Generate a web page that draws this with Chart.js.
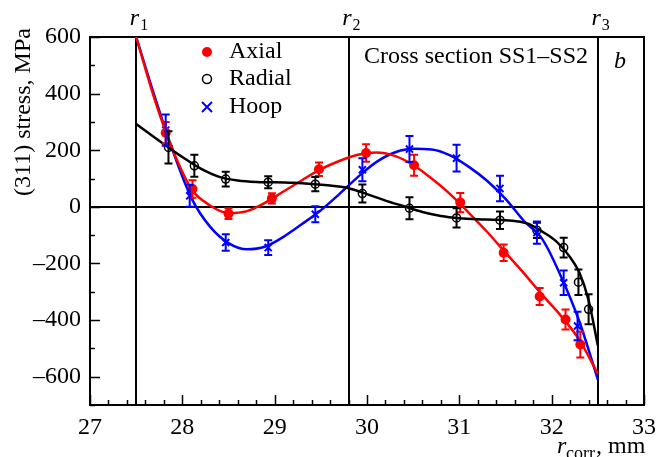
<!DOCTYPE html>
<html>
<head>
<meta charset="utf-8">
<script src="https://cdn.jsdelivr.net/npm/chart.js@4.4.1/dist/chart.umd.min.js"></script>
<style>
  html, body { margin: 0; padding: 0; background: #fff; }
</style>
</head>
<body>
<canvas id="chart" width="658" height="457"></canvas>
<script>
// axis ticks
const xTicks = [27, 28, 29, 30, 31, 32, 33];
const yTicks = [-600, -400, -200, 0, 200, 400, 600];

// boundaries r1, r2, r3
const radiiX = [27.5, 29.8, 32.5];
const radiiLabels = ['1', '2', '3'];

// measured points (MPa) with error bars
const axialX = [27.82, 28.11, 28.50, 28.97, 29.48, 29.99, 30.51, 31.01, 31.48, 31.87, 32.15, 32.31];
const axialY = [262, 63, -24, 30, 133, 190, 147, 15, -162, -317, -398, -486];
const axialErr = [38, 31, 19, 18, 24, 31, 37, 34, 29, 30, 35, 46];

const radialX = [27.85, 28.13, 28.47, 28.93, 29.44, 29.95, 30.46, 30.97, 31.44, 31.84, 32.13, 32.29, 32.40];
const radialY = [210, 145, 98, 87, 80, 47, -5, -39, -47, -83, -144, -266, -362];
const radialErr = [57, 39, 26, 21, 25, 32, 39, 34, 31, 27, 35, 45, 53];

const hoopX = [27.82, 28.08, 28.47, 28.93, 29.44, 29.95, 30.46, 30.97, 31.44, 31.84, 32.13, 32.28];
const hoopY = [271, 39, -126, -144, -26, 131, 204, 172, 65, -91, -268, -421];
const hoopErr = [55, 39, 29, 26, 28, 41, 46, 47, 45, 39, 43, 50];

// fitted curves
const axialCurveX = [27.5, 27.7, 27.9, 28.1, 28.3, 28.5, 28.7, 28.9, 29.1, 29.3, 29.5, 29.7, 29.9, 30.1, 30.3, 30.5, 30.7, 30.9, 31.1, 31.3, 31.5, 31.7, 31.9, 32.1, 32.3, 32.5];
const axialCurveY = [600, 380, 198, 62, 5, -22, -15, 15, 55, 95, 133, 162, 184, 192, 180, 148, 100, 45, -20, -88, -162, -235, -312, -385, -470, -590];

const radialCurveX = [27.5, 27.7, 27.85, 28.0, 28.2, 28.4, 28.6, 28.8, 29.0, 29.2, 29.4, 29.6, 29.8, 30.0, 30.2, 30.4, 30.6, 30.8, 31.0, 31.2, 31.4, 31.6, 31.75, 31.9, 32.05, 32.2, 32.3, 32.4, 32.5];
const radialCurveY = [293, 245, 210, 176, 135, 106, 93, 88, 87, 85, 81, 75, 66, 45, 22, 2, -18, -32, -40, -44, -46, -50, -60, -88, -122, -178, -232, -330, -490];

const hoopCurveX = [27.5, 27.7, 27.9, 28.1, 28.3, 28.5, 28.7, 28.9, 29.1, 29.3, 29.5, 29.7, 29.9, 30.1, 30.3, 30.5, 30.7, 30.9, 31.1, 31.3, 31.5, 31.7, 31.9, 32.1, 32.3, 32.5];
const hoopCurveY = [600, 390, 195, 30, -70, -128, -150, -140, -105, -60, -12, 45, 105, 158, 192, 205, 203, 182, 142, 92, 28, -50, -115, -245, -405, -610];

const FONT = "'Liberation Serif', 'Times New Roman', serif";
const RED = '#ff0000';
const BLUE = '#0000ff';
const BLACK = '#000000';

const pts = (xs, ys) => xs.map((x, i) => ({ x, y: ys[i] }));

const errorBars = [
  { xs: axialX, ys: axialY, err: axialErr, color: RED },
  { xs: radialX, ys: radialY, err: radialErr, color: BLACK },
  { xs: hoopX, ys: hoopY, err: hoopErr, color: BLUE },
];

const framePlugin = {
  id: 'frame',
  beforeDatasetsDraw(chart) {
    const { ctx, chartArea: a, scales: { x, y } } = chart;
    ctx.save();
    ctx.strokeStyle = BLACK;
    ctx.lineWidth = 2;
    ctx.beginPath();
    radiiX.forEach((r) => {
      const px = Math.round(x.getPixelForValue(r));
      ctx.moveTo(px, a.top);
      ctx.lineTo(px, a.bottom);
    });
    const y0 = Math.round(y.getPixelForValue(0));
    ctx.moveTo(a.left, y0);
    ctx.lineTo(a.right, y0);
    ctx.stroke();

    // inward ticks on left and bottom axes
    ctx.lineWidth = 1.5;
    ctx.beginPath();
    for (let v = 27; v <= 33.001; v += 0.2) {
      const px = Math.round(x.getPixelForValue(v)) + 0.5;
      const major = Math.abs(v - Math.round(v)) < 0.01;
      ctx.moveTo(px, a.bottom);
      ctx.lineTo(px, a.bottom - (major ? 10 : 5));
    }
    for (let v = -700; v <= 600; v += 100) {
      const py = Math.round(y.getPixelForValue(v)) + 0.5;
      const major = v % 200 === 0;
      ctx.moveTo(a.left, py);
      ctx.lineTo(a.left + (major ? 10 : 5), py);
    }
    ctx.stroke();

    ctx.lineWidth = 2;
    ctx.strokeRect(a.left, a.top, a.right - a.left, a.bottom - a.top);
    ctx.restore();
  },
  afterDatasetsDraw(chart) {
    const { ctx, scales: { x, y } } = chart;
    ctx.save();
    ctx.lineWidth = 2;
    errorBars.forEach((s) => {
      ctx.strokeStyle = s.color;
      ctx.beginPath();
      s.xs.forEach((xv, i) => {
        const px = x.getPixelForValue(xv);
        const top = y.getPixelForValue(s.ys[i] + s.err[i]);
        const bot = y.getPixelForValue(s.ys[i] - s.err[i]);
        ctx.moveTo(px, top);
        ctx.lineTo(px, bot);
        ctx.moveTo(px - 4, top);
        ctx.lineTo(px + 4, top);
        ctx.moveTo(px - 4, bot);
        ctx.lineTo(px + 4, bot);
      });
      ctx.stroke();
    });
    ctx.restore();
  },
  afterDraw(chart) {
    const { ctx, scales: { x } } = chart;
    ctx.save();
    ctx.fillStyle = BLACK;
    ctx.textBaseline = 'alphabetic';

    // r1, r2, r3 above the lines
    radiiX.forEach((r, i) => {
      const px = x.getPixelForValue(r);
      ctx.font = `italic 24px ${FONT}`;
      ctx.textAlign = 'right';
      ctx.fillText('r', px + 3, 25);
      ctx.font = `16px ${FONT}`;
      ctx.textAlign = 'left';
      ctx.fillText(radiiLabels[i], px + 4, 30);
    });

    ctx.font = `24px ${FONT}`;
    ctx.textAlign = 'left';
    ctx.fillText('Cross section SS1\u2013SS2', 364, 63);

    ctx.font = `italic 24px ${FONT}`;
    ctx.fillText('b', 614, 68);

    // legend
    const legend = [
      { label: 'Axial', y: 52, draw: (cx, cy) => { ctx.fillStyle = RED; ctx.beginPath(); ctx.arc(cx, cy, 5, 0, Math.PI * 2); ctx.fill(); } },
      { label: 'Radial', y: 79, draw: (cx, cy) => { ctx.strokeStyle = BLACK; ctx.lineWidth = 1.5; ctx.beginPath(); ctx.arc(cx, cy, 4.5, 0, Math.PI * 2); ctx.stroke(); } },
      { label: 'Hoop', y: 107, draw: (cx, cy) => { ctx.strokeStyle = BLUE; ctx.lineWidth = 2; ctx.beginPath(); ctx.moveTo(cx - 5, cy - 5); ctx.lineTo(cx + 5, cy + 5); ctx.moveTo(cx + 5, cy - 5); ctx.lineTo(cx - 5, cy + 5); ctx.stroke(); } },
    ];
    legend.forEach((item) => {
      item.draw(207, item.y);
      ctx.fillStyle = BLACK;
      ctx.font = `24px ${FONT}`;
      ctx.textAlign = 'left';
      ctx.fillText(item.label, 229, item.y + 6);
    });

    // x title
    ctx.font = `italic 24px ${FONT}`;
    ctx.fillText('r', 557, 453);
    ctx.font = `18px ${FONT}`;
    ctx.fillText('corr', 566, 459);
    ctx.font = `24px ${FONT}`;
    ctx.fillText(', mm', 596, 453);

    // y title
    ctx.translate(24, 112);
    ctx.rotate(-Math.PI / 2);
    ctx.textAlign = 'center';
    ctx.textBaseline = 'middle';
    ctx.fillText('(311) stress, MPa', 0, 0);
    ctx.restore();
  },
};

const curve = (xs, ys, color) => ({
  type: 'scatter',
  data: pts(xs, ys),
  showLine: true,
  borderColor: color,
  borderWidth: 2.5,
  pointRadius: 0,
  pointHoverRadius: 0,
  cubicInterpolationMode: 'monotone',
});

new Chart(document.getElementById('chart'), {
  type: 'scatter',
  data: {
    datasets: [
      curve(radialCurveX, radialCurveY, BLACK),
      curve(axialCurveX, axialCurveY, RED),
      curve(hoopCurveX, hoopCurveY, BLUE),
      {
        label: 'Axial',
        data: pts(axialX, axialY),
        pointStyle: 'circle',
        pointRadius: 5,
        backgroundColor: RED,
        borderColor: RED,
        borderWidth: 0,
      },
      {
        label: 'Radial',
        data: pts(radialX, radialY),
        pointStyle: 'circle',
        pointRadius: 4,
        backgroundColor: 'rgba(0,0,0,0)',
        borderColor: BLACK,
        borderWidth: 1.5,
      },
      {
        label: 'Hoop',
        data: pts(hoopX, hoopY),
        pointStyle: 'crossRot',
        pointRadius: 5,
        borderColor: BLUE,
        borderWidth: 2,
      },
    ],
  },
  options: {
    responsive: false,
    animation: false,
    devicePixelRatio: 1,
    layout: { padding: { left: 0, right: 14, top: 37, bottom: 0 } },
    plugins: {
      legend: { display: false },
      tooltip: { enabled: false },
    },
    scales: {
      x: {
        type: 'linear',
        min: 27,
        max: 33,
        grid: { display: false, drawTicks: false },
        border: { display: false },
        afterFit(scale) {
          scale.height = 52;
          scale.paddingLeft = 0;
          scale.paddingRight = 0;
        },
        afterBuildTicks(scale) { scale.ticks = xTicks.map((v) => ({ value: v })); },
        ticks: {
          color: BLACK,
          padding: 8,
          font: { family: FONT, size: 24 },
          maxRotation: 0,
        },
      },
      y: {
        type: 'linear',
        min: -700,
        max: 600,
        grid: { display: false, drawTicks: false },
        border: { display: false },
        afterFit(scale) {
          scale.width = 90;
          scale.paddingTop = 0;
          scale.paddingBottom = 0;
        },
        afterBuildTicks(scale) { scale.ticks = yTicks.map((v) => ({ value: v })); },
        ticks: {
          color: BLACK,
          padding: 9,
          font: { family: FONT, size: 24 },
          callback: (v) => String(v).replace('-', '\u2013'),
        },
      },
    },
  },
  plugins: [framePlugin],
});
</script>
</body>
</html>
